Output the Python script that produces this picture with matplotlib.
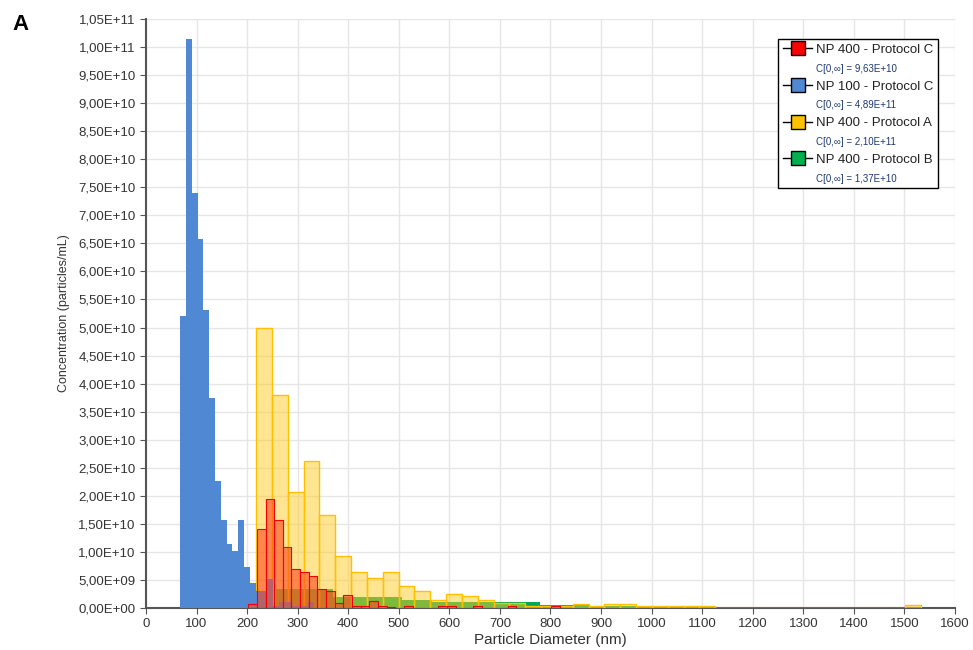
import matplotlib
matplotlib.use("Agg")
import matplotlib.pyplot as plt
import numpy as np
from matplotlib.lines import Line2D
from matplotlib.ticker import FuncFormatter, MultipleLocator

plt.rcParams['font.family'] = ['Liberation Sans', 'DejaVu Sans']

# NP 100 - Protocol C (blue), regular bins
blue_start = 67.5
blue_width = 11.5
blue_vals = [52.0, 101.4, 74.0, 65.7, 53.1, 37.5, 22.7, 15.6, 11.4, 10.2, 15.6, 7.3, 4.4,
             3.0, 3.0, 5.1, 0.4, 1.0, 1.0, 0.3, 0.3, 0.3, 1.0]

# NP 400 - Protocol A (yellow)
yellow_start = 186.7
yellow_width = 31.3
yellow_vals = [4.5, 50.0, 38.0, 20.6, 26.2, 16.5, 9.3, 6.5, 5.4, 6.5, 4.0, 3.0, 1.5, 2.5, 2.2,
               1.5, 0.85, 0.85, 0.4, 0.3, 0.3, 0.65, 0.35, 0.8, 0.8, 0.3, 0.3, 0.3, 0.3, 0.3,
               0, 0, 0, 0, 0, 0, 0, 0, 0, 0, 0, 0, 0.6]

# NP 400 - Protocol B (green), irregular bins
green_edges = [258, 370, 506, 565, 687, 779, 878, 1097, 1125, 1297]
green_vals = [3.3, 2.0, 1.5, 1.05, 1.15, 0.6, 0.3, 0.4, 0.2]

# NP 400 - Protocol C (red)
red_start = 202.3
red_width = 17.1
red_vals = [0.7, 14.1, 19.4, 15.6, 10.8, 6.9, 6.5, 5.7, 3.4, 3.0, 0.9, 2.4, 0.4, 0.4, 1.3,
            0.4, 0.2, 0, 0.3, 0, 0, 0, 0.3, 0.3, 0, 0, 0.3, 0, 0, 0, 0.3, 0, 0, 0, 0, 0.3]

legend_labels = ["NP 400 - Protocol C", "NP 100 - Protocol C", "NP 400 - Protocol A", "NP 400 - Protocol B"]
legend_totals = ["C[0,\u221e] = 9,63E+10", "C[0,\u221e] = 4,89E+11", "C[0,\u221e] = 2,10E+11", "C[0,\u221e] = 1,37E+10"]
legend_colors = ["#FF0000", "#5088D4", "#FFC000", "#00B050"]


def edges_of(start, width, n):
    return start + width * np.arange(n + 1)


fig = plt.figure(figsize=(9.73, 6.5), dpi=100)
ax = fig.add_axes([0.150, 0.0646, 0.8315, 0.9062])

# green first, then yellow on top, then blue, then red
ax.stairs(np.array(green_vals) * 1e9, green_edges, fill=True, color="#00A84F", zorder=2)

ye = edges_of(yellow_start, yellow_width, len(yellow_vals))
ax.bar(ye[:-1], np.array(yellow_vals) * 1e9, width=yellow_width, align='edge',
       facecolor=(1.0, 0.80, 0.15, 0.5), edgecolor="#FFC000", linewidth=1.0, zorder=3)

be = edges_of(blue_start, blue_width, len(blue_vals))
ax.stairs(np.array(blue_vals) * 1e9, be, fill=True, color="#5088D4", zorder=4)

re = edges_of(red_start, red_width, len(red_vals))
ax.bar(re[:-1], np.array(red_vals) * 1e9, width=red_width, align='edge',
       facecolor=(1.0, 0.28, 0.12, 0.6), edgecolor="#F00000", linewidth=0.8, zorder=5)

ax.set_xlim(0, 1600)
ax.set_ylim(0, 1.05e11)
ax.xaxis.set_major_locator(MultipleLocator(100))
ax.yaxis.set_major_locator(MultipleLocator(5e9))
ax.yaxis.set_major_formatter(FuncFormatter(lambda v, p: f"{v:.2E}".replace('.', ',')))
ax.grid(True, color="#E6E6E6", linewidth=1.0, zorder=0)
ax.set_axisbelow(True)

for s in ['top', 'right']:
    ax.spines[s].set_visible(False)
for s in ['left', 'bottom']:
    ax.spines[s].set_color("#555555")
    ax.spines[s].set_linewidth(1.5)
ax.tick_params(axis='both', direction='out', length=4, color="#555555", labelsize=9.5,
               labelcolor="#333333")

ax.set_xlabel("Particle Diameter (nm)", fontsize=11, color="#333333", labelpad=2)
ax.set_ylabel("Concentration (particles/mL)", fontsize=9, color="#333333", labelpad=6)

fig.text(0.013, 0.963, "A", fontsize=16, fontweight='bold', va='center')

handles = []
labels = []
for lab, tot, col in zip(legend_labels, legend_totals, legend_colors):
    handles.append(Line2D([0], [0], color='black', lw=1, marker='s', markersize=10,
                          markerfacecolor=col, markeredgecolor='black'))
    labels.append(lab)
    handles.append(Line2D([], [], linestyle='none'))
    labels.append(tot)

leg = ax.legend(handles, labels, loc='upper right', bbox_to_anchor=(0.979, 0.966),
                borderaxespad=0, fontsize=9.5, frameon=True, fancybox=False, framealpha=1,
                edgecolor='black', handlelength=2.2, handletextpad=0.3,
                labelspacing=0.5, borderpad=0.35)
leg.get_frame().set_linewidth(1.0)
for i, t in enumerate(leg.get_texts()):
    if i % 2 == 1:
        t.set_fontsize(7)
        t.set_color("#1F3A70")
    else:
        t.set_color("#222222")

fig.savefig("out.png", dpi=100)
